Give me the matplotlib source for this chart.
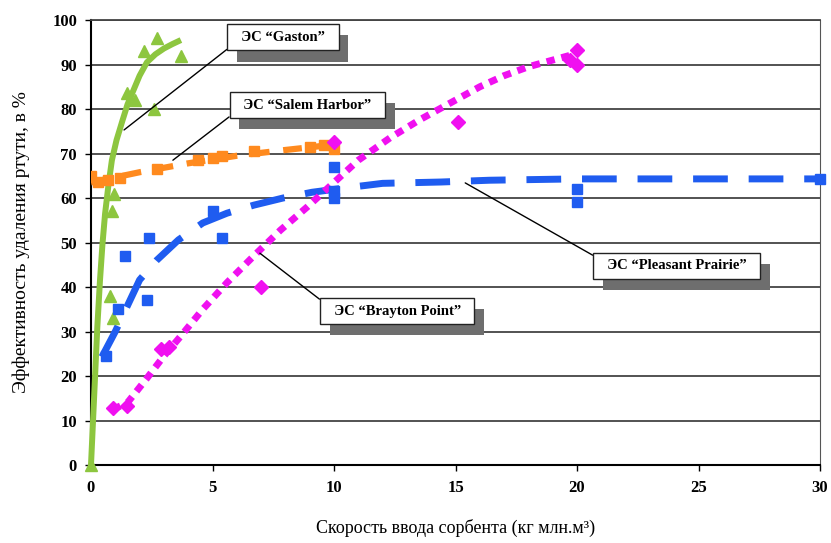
import matplotlib
matplotlib.use('Agg')
import matplotlib.pyplot as plt
import matplotlib.patheffects as pe

plt.rcParams['font.family'] = ['Liberation Serif', 'DejaVu Serif']

# Gaston (green triangles + trend)
gaston_x = [0.0, 0.78, 0.9, 0.86, 0.95, 1.5, 1.8, 2.6, 2.2, 2.7, 3.7]
gaston_y = [0.0, 38, 33, 57, 61, 83.5, 82, 80, 93, 96, 92]
gaston_fit_x = [0.0, 0.08, 0.16, 0.26, 0.37, 0.47, 0.58, 0.72, 0.86, 1.05, 1.3, 1.5, 1.73, 2.0, 2.3, 2.65, 3.0, 3.35, 3.7]
gaston_fit_y = [0.0, 9.5, 19, 31, 41.5, 49.5, 56.5, 63, 68.5, 73, 77.5, 81, 84, 87.5, 90.5, 92.3, 93.6, 94.6, 95.5]

# Salem Harbor (orange)
salem_x = [0.0, 0.3, 0.7, 1.2, 2.7, 4.4, 5.0, 5.4, 6.7, 9.0, 9.6, 10.0]
salem_y = [65, 63.5, 64, 64.5, 66.5, 68.5, 69, 69.5, 70.5, 71.5, 72, 71]
salem_fit_x = [0.0, 2.0, 4.0, 6.0, 8.0, 10.0]
salem_fit_y = [63.5, 65.8, 67.8, 69.5, 70.8, 72.0]

# Pleasant Prairie (blue)
pp_x = [0.6, 1.1, 1.4, 2.3, 2.4, 5.0, 5.4, 10.0, 10.0, 10.0, 20.0, 20.0, 30.0]
pp_y = [24.5, 35, 47, 37, 51, 57, 51, 67, 61.5, 60, 62, 59, 64.3]
pp_fit_x = [0.45, 1.0, 2.0, 2.7, 3.6, 4.6, 5.6, 6.7, 7.9, 9.1, 10.5, 12.0, 14.4, 16.4, 20.0, 25.0, 30.0]
pp_fit_y = [24.3, 30, 41.6, 46, 50.6, 54.4, 56.6, 58.4, 60, 61.3, 62.3, 63.3, 63.6, 64.0, 64.3, 64.3, 64.3]

# Brayton Point (magenta)
br_x = [0.9, 1.5, 2.9, 3.2, 7.0, 10.0, 15.1, 19.7, 20.0, 20.0]
br_y = [12.8, 13.2, 26, 26.5, 40, 72.5, 77, 91, 93.2, 90]
br_fit_x = [0.9, 1.5, 2.3, 3.0, 3.7, 4.6, 5.6, 6.7, 7.8, 8.9, 9.9, 11.0, 12.3, 13.5, 15.0, 16.0, 17.0, 18.0, 19.0, 20.0]
br_fit_y = [12.5, 14, 19.5, 24.5, 29, 35, 41, 47, 52.8, 58, 63, 68.5, 73.5, 77.5, 82, 85, 87.5, 89.5, 91, 92.5]

labels = ['ЭС “Gaston”', 'ЭС “Salem Harbor”', 'ЭС “Pleasant Prairie”', 'ЭС “Brayton Point”']
label_pos = [(7.9, 96.1), (8.9, 80.9), (24.1, 44.8), (12.6, 34.6)]
label_target = [(1.36, 75.3), (3.37, 68.5), (15.4, 63.4), (6.95, 47.6)]
# which corner of the box the leader line leaves from
label_corner = [(0, 0), (0, 0), (0, 1), (0, 1)]

green = '#8dc63f'
orange = '#ff8a1e'
blue = '#1f5cf0'
magenta = '#f010f0'

fig = plt.figure(figsize=(8.31, 5.43), dpi=100)
ax = fig.add_axes([0.1095, 0.1436, 0.8773, 0.8195])

for yy in range(10, 101, 10):
	ax.axhline(yy, color='#444444', lw=1.3, zorder=1)

# trend lines
ax.plot(gaston_fit_x, gaston_fit_y, color=green, lw=4.3, solid_capstyle='butt', zorder=3, clip_on=False)
ax.plot(salem_fit_x, salem_fit_y, color=orange, lw=4.5, linestyle=(0, (3, 2.2)), dash_capstyle='butt', zorder=3)
ax.plot(pp_fit_x, pp_fit_y, color=blue, lw=5, linestyle=(0, (5, 3)), dash_capstyle='butt', zorder=3)
ax.plot(br_fit_x, br_fit_y, color=magenta, lw=5, linestyle=(0, (1.2, 1)), dash_capstyle='butt', zorder=3)

# data points
ax.plot(gaston_x, gaston_y, '^', color=green, ms=9, zorder=4, clip_on=False)
ax.plot(salem_x, salem_y, 's', color=orange, ms=7, zorder=4)
ax.plot(pp_x, pp_y, 's', color=blue, ms=7, zorder=4, clip_on=False)
ax.plot(br_x, br_y, 'D', color=magenta, ms=7, zorder=4)

# callouts with shadow boxes
for txt, pos, tgt, corner in zip(labels, label_pos, label_target, label_corner):
	ax.annotate('  ' + txt + '  ', xy=tgt, xytext=pos, ha='center', va='center',
		fontsize=10.5, fontweight='bold', zorder=6,
		bbox=dict(boxstyle='square,pad=0.45', fc='white', ec='#222222', lw=1,
			path_effects=[pe.SimplePatchShadow(offset=(7, -8), shadow_rgbFace='#6e6e6e', alpha=1), pe.Normal()]),
		arrowprops=dict(arrowstyle='-', color='black', lw=1, shrinkA=0, shrinkB=0, relpos=corner))

ax.set_xlim(0, 30)
ax.set_ylim(0, 100)
ax.set_xticks(range(0, 31, 5))
ax.set_yticks(range(0, 101, 10))
ax.tick_params(axis='both', direction='out', length=4, width=1, labelsize=12, colors='black')
ax.tick_params(axis='x', pad=7)
ax.tick_params(axis='y', pad=6)
for lab in ax.get_xticklabels() + ax.get_yticklabels():
	lab.set_fontweight('bold')

ax.spines['left'].set_linewidth(1.5)
ax.spines['bottom'].set_linewidth(1.5)
ax.spines['right'].set_color('#555555')
ax.spines['top'].set_color('#444444')
ax.spines['top'].set_linewidth(1.3)

ax.set_xlabel('Скорость ввода сорбента (кг млн.м³)', fontsize=13, labelpad=16)
ax.set_ylabel('Эффективность удаления ртути, в %', fontsize=14, labelpad=16)

fig.savefig('out.png', dpi=100)
